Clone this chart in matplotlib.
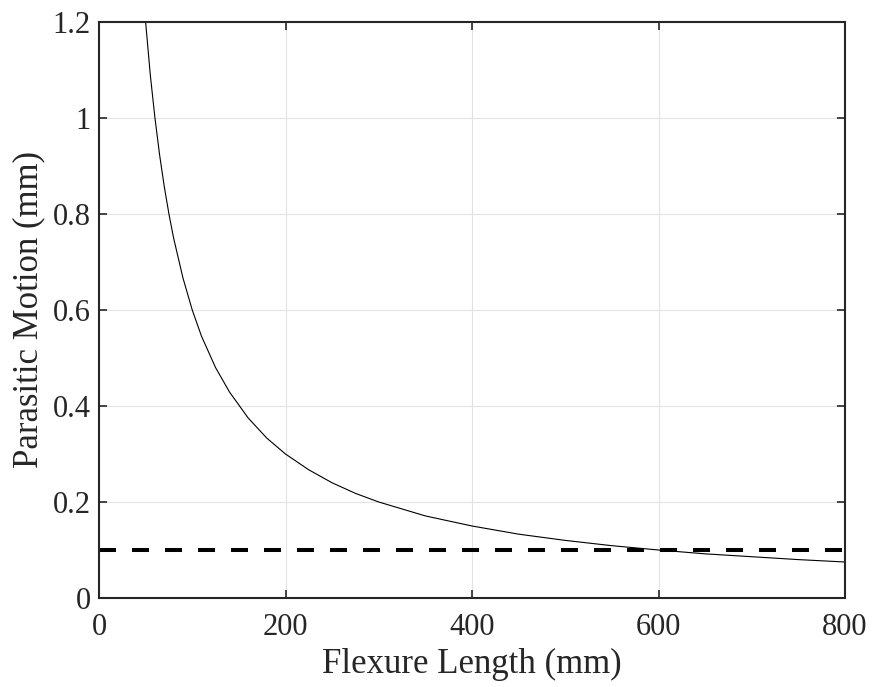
import matplotlib
matplotlib.use("Agg")
import matplotlib.pyplot as plt

# Data
flexure_length = [50, 55, 60, 65, 70, 75, 80, 90, 100, 110, 125, 140, 160, 180, 200,
                  225, 250, 275, 300, 350, 400, 450, 500, 550, 600, 650, 700, 750, 800]
parasitic_motion = [1.20, 1.09, 1.00, 0.923, 0.857, 0.80, 0.75, 0.667, 0.60, 0.545, 0.48,
                    0.429, 0.375, 0.333, 0.30, 0.267, 0.24, 0.218, 0.20, 0.171, 0.15,
                    0.133, 0.12, 0.109, 0.10, 0.092, 0.086, 0.08, 0.075]
limit_x = [0, 800]
limit_y = [0.1, 0.1]
x_ticks = [0, 200, 400, 600, 800]
y_ticks = [0, 0.2, 0.4, 0.6, 0.8, 1.0, 1.2]
y_tick_labels = ["0", "0.2", "0.4", "0.6", "0.8", "1", "1.2"]

plt.rcParams['font.family'] = ['Liberation Serif', 'DejaVu Serif']

fig = plt.figure(figsize=(8.72, 6.87), dpi=100)
ax = fig.add_axes([99/872, 1 - 598/687, (845-99)/872, (598-22)/687])

ax.plot(flexure_length, parasitic_motion, color='black', linewidth=0.8, clip_on=True)
lw = 2.9
lwpx = lw * 100 / 72
ax.plot(limit_x, limit_y, color='black', linewidth=lw,
        linestyle=(0, (17/lwpx, 16/lwpx)), clip_on=True)

ax.set_xlim(0, 800)
ax.set_ylim(0, 1.2)
ax.set_xticks(x_ticks)
ax.set_yticks(y_ticks)
ax.set_yticklabels(y_tick_labels)
ax.grid(True, color='#e3e3e3', linewidth=0.8)
ax.set_axisbelow(True)

for s in ax.spines.values():
    s.set_linewidth(1.5)
    s.set_color('#262626')
ax.tick_params(direction='in', length=6, width=1.2, colors='#262626',
               top=True, right=True, labelsize=22)
ax.tick_params(axis='y', pad=6)
ax.tick_params(axis='x', pad=11)
ax.set_xlabel('Flexure Length (mm)', fontsize=25, color='#262626', labelpad=4)
ax.set_ylabel('Parasitic Motion (mm)', fontsize=25, color='#262626', labelpad=5)

fig.savefig('out.png', dpi=100)
